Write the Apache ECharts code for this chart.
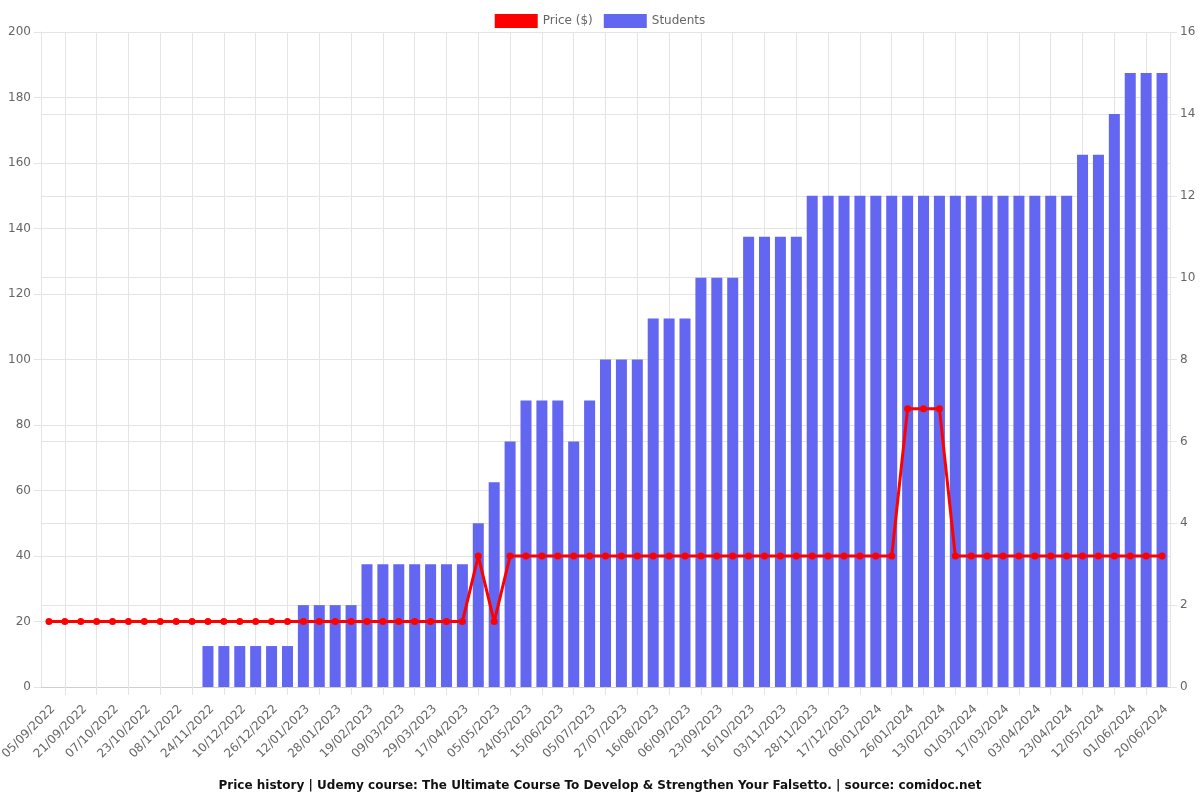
<!DOCTYPE html>
<html>
<head>
<meta charset="utf-8">
<script src="https://cdn.jsdelivr.net/npm/echarts@6/dist/echarts.min.js"></script>
<style>html,body{margin:0;padding:0;background:#fff}#c{width:1200px;height:800px}</style>
</head>
<body>
<div id="c"></div>
<script>
const categories = [
'05/09/2022','13/09/2022','21/09/2022','29/09/2022','07/10/2022','15/10/2022','23/10/2022','31/10/2022',
'08/11/2022','16/11/2022','24/11/2022','02/12/2022','10/12/2022','18/12/2022','26/12/2022','03/01/2023',
'12/01/2023','20/01/2023','28/01/2023','08/02/2023','19/02/2023','28/02/2023','09/03/2023','19/03/2023',
'29/03/2023','08/04/2023','17/04/2023','26/04/2023','05/05/2023','14/05/2023','24/05/2023','04/06/2023',
'15/06/2023','25/06/2023','05/07/2023','16/07/2023','27/07/2023','06/08/2023','16/08/2023','27/08/2023',
'06/09/2023','15/09/2023','23/09/2023','05/10/2023','16/10/2023','25/10/2023','03/11/2023','15/11/2023',
'28/11/2023','07/12/2023','17/12/2023','27/12/2023','06/01/2024','16/01/2024','26/01/2024','04/02/2024',
'13/02/2024','21/02/2024','01/03/2024','09/03/2024','17/03/2024','25/03/2024','03/04/2024','13/04/2024',
'23/04/2024','02/05/2024','12/05/2024','22/05/2024','01/06/2024','10/06/2024','20/06/2024'
];
const price = [
19.99,19.99,19.99,19.99,19.99,19.99,19.99,19.99,19.99,19.99,
19.99,19.99,19.99,19.99,19.99,19.99,19.99,19.99,19.99,19.99,
19.99,19.99,19.99,19.99,19.99,19.99,19.99,39.99,19.99,39.99,
39.99,39.99,39.99,39.99,39.99,39.99,39.99,39.99,39.99,39.99,
39.99,39.99,39.99,39.99,39.99,39.99,39.99,39.99,39.99,39.99,
39.99,39.99,39.99,39.99,84.99,84.99,84.99,39.99,39.99,39.99,
39.99,39.99,39.99,39.99,39.99,39.99,39.99,39.99,39.99,39.99,39.99
];
const students = [
0,0,0,0,0,0,0,0,0,0,
1,1,1,1,1,1,2,2,2,2,
3,3,3,3,3,3,3,4,5,6,
7,7,7,6,7,8,8,8,9,9,
9,10,10,10,11,11,11,11,12,12,
12,12,12,12,12,12,12,12,12,12,
12,12,12,12,12,13,13,14,15,15,15
];
const priceTicks = {min: 0, max: 200, interval: 20};
const studentTicks = {min: 0, max: 16, interval: 2};
const titleText = 'Price history | Udemy course: The Ultimate Course To Develop & Strengthen Your Falsetto. | source: comidoc.net';

// helper axis: 2 sub-steps per category so grid lines fall on odd category centres
const helperSteps = Array.from({length: categories.length * 2 + 1}, (_, i) => String(i));

const gridColor = '#e4e4e4';
const chart = echarts.init(document.getElementById('c'));
chart.setOption({
  animation: false,
  textStyle: {fontFamily: 'DejaVu Sans'},
  legend: {
    top: 9, left: 'center',
    itemWidth: 43, itemHeight: 14, itemGap: 11,
    textStyle: {color: '#666', fontSize: 12, fontFamily: 'DejaVu Sans'},
    data: [{name: 'Price ($)', icon: 'rect'}, {name: 'Students', icon: 'rect'}]
  },
  title: {
    text: titleText, left: 'center', top: 775,
    textStyle: {fontSize: 12, fontWeight: 'bold', color: '#111', fontFamily: 'DejaVu Sans'}
  },
  grid: {left: 41, right: 30, top: 32, bottom: 113, containLabel: false, outerBoundsMode: 'none'},
  xAxis: [
    {
      type: 'category', data: categories, boundaryGap: true, position: 'bottom',
      axisLine: {show: true, lineStyle: {color: '#cfcfcf'}},
      axisTick: {show: false},
      splitLine: {show: false},
      axisLabel: {interval: 1, rotate: 45, color: '#666', fontSize: 12, margin: 16, verticalAlign: 'top', fontFamily: 'DejaVu Sans'}
    },
    {
      type: 'category', data: helperSteps, boundaryGap: false, position: 'bottom',
      axisLine: {show: false},
      axisLabel: {show: false},
      axisTick: {show: true, length: 8, interval: (i) => i % 4 === 3, lineStyle: {color: gridColor}},
      splitLine: {show: true, interval: (i) => i % 4 === 3, lineStyle: {color: gridColor}}
    }
  ],
  yAxis: [
    {
      type: 'value', position: 'left', min: priceTicks.min, max: priceTicks.max, interval: priceTicks.interval,
      axisLine: {show: true, lineStyle: {color: gridColor}},
      axisTick: {show: true, length: 7, lineStyle: {color: gridColor}},
      splitLine: {show: true, lineStyle: {color: gridColor}},
      axisLabel: {color: '#666', fontSize: 12, margin: 10, fontFamily: 'DejaVu Sans'}
    },
    {
      type: 'value', position: 'right', min: studentTicks.min, max: studentTicks.max, interval: studentTicks.interval,
      axisLine: {show: true, lineStyle: {color: gridColor}},
      axisTick: {show: true, length: 7, lineStyle: {color: gridColor}},
      splitLine: {show: true, lineStyle: {color: gridColor}},
      axisLabel: {color: '#666', fontSize: 12, margin: 10, fontFamily: 'DejaVu Sans'}
    }
  ],
  series: [
    {
      name: 'Price ($)', type: 'line', xAxisIndex: 0, yAxisIndex: 0, data: price,
      color: '#ff0000', z: 5,
      lineStyle: {width: 3, color: '#ff0000'},
      symbol: 'circle', symbolSize: 7, showSymbol: true,
      itemStyle: {color: '#ff0000'}
    },
    {
      name: 'Students', type: 'bar', xAxisIndex: 0, yAxisIndex: 1, data: students,
      barWidth: 11, color: '#6366f1', z: 2,
      itemStyle: {color: '#6366f1'}
    }
  ]
});
</script>
</body>
</html>
